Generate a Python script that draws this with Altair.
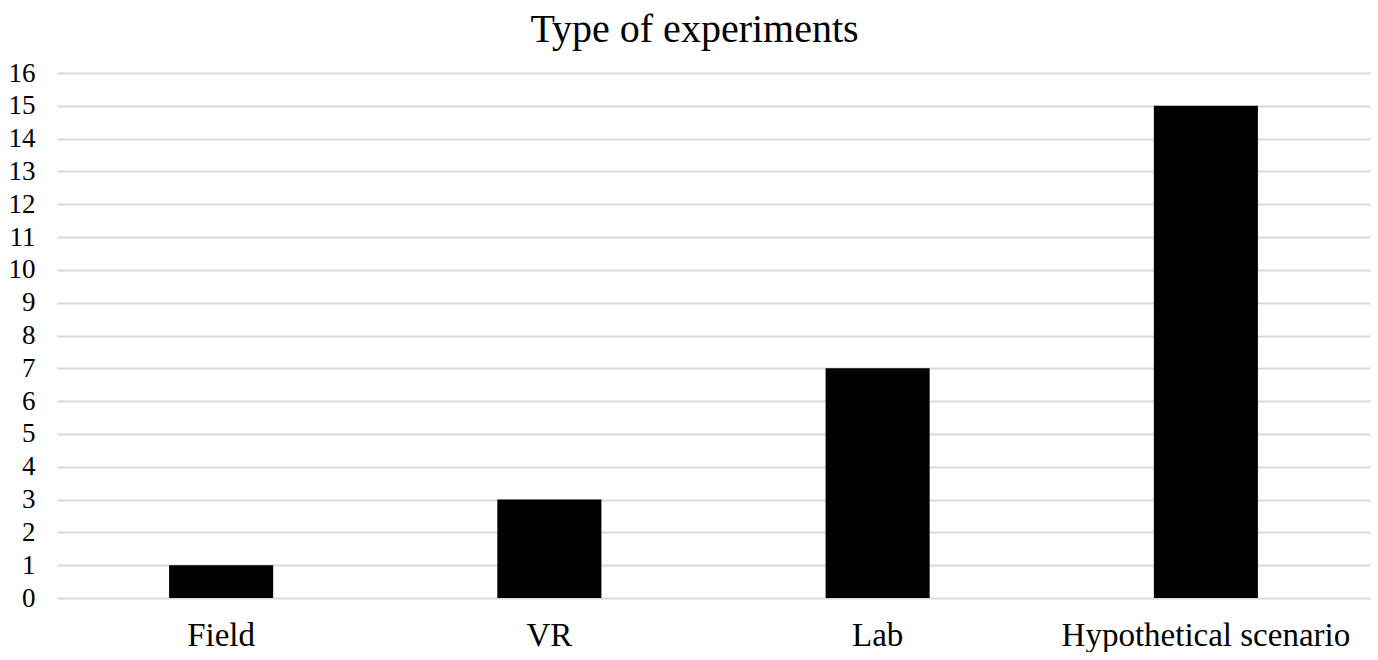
import altair as alt
import pandas as pd

categories = ["Field", "VR", "Lab", "Hypothetical scenario"]
counts = [1, 3, 7, 15]
y_ticks = list(range(0, 17))

df = pd.DataFrame({"type": categories, "count": counts})

FONT = "Liberation Serif"

chart = alt.Chart(df).mark_bar(color="#000000").encode(
    x=alt.X("type:N", sort=categories, title=None,
            scale=alt.Scale(paddingInner=0.683, paddingOuter=0.3415),
            axis=alt.Axis(labelAngle=0, domain=False, ticks=False, labelPadding=21,
                          labelFont=FONT, labelFontSize=33, labelColor="#000000",
                          labelLimit=0, labelBaseline="top")),
    y=alt.Y("count:Q", title=None,
            scale=alt.Scale(domain=[0, 16], nice=False),
            axis=alt.Axis(values=y_ticks, domain=False, ticks=False, labelPadding=22,
                          labelFont=FONT, labelFontSize=27, labelColor="#000000",
                          gridColor="#d9d9d9", gridWidth=2, gridOpacity=1)),
).properties(
    width=1313, height=525,
    title=alt.TitleParams("Type of experiments", font=FONT, fontSize=40,
                          fontWeight="normal", color="#000000", anchor="middle",
                          offset=9, dx=-19),
    autosize=alt.AutoSizeParams(type="none"),
    padding={"left": 49, "top": 65, "right": 0, "bottom": 54},
).configure_view(stroke=None)

chart.save("out.html", embed_options={"renderer": "svg", "actions": False})
